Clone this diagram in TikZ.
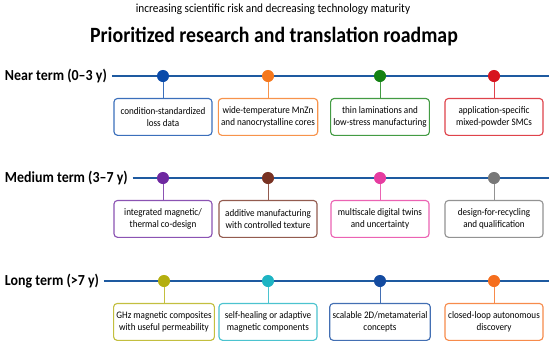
\documentclass[tikz,border=0pt]{standalone}
\usepackage{fontspec}
\setmainfont{Carlito}[FakeStretch=0.91]
\usetikzlibrary{positioning}

\definecolor{roadblue}{RGB}{30,90,160}
\definecolor{nearA}{RGB}{10,75,170}
\definecolor{nearB}{RGB}{245,120,30}
\definecolor{nearC}{RGB}{20,130,20}
\definecolor{nearD}{RGB}{215,20,30}
\definecolor{midA}{RGB}{110,40,160}
\definecolor{midB}{RGB}{120,50,35}
\definecolor{midC}{RGB}{230,60,160}
\definecolor{midD}{RGB}{120,120,120}
\definecolor{longA}{RGB}{180,175,15}
\definecolor{longB}{RGB}{30,180,195}
\definecolor{longC}{RGB}{20,75,160}
\definecolor{longD}{RGB}{245,110,30}

\tikzset{
  axis/.style={draw=roadblue,line width=1.5pt},
  termlabel/.style={anchor=west,font=\fontsize{10.9}{12}\selectfont\bfseries},
  milestone/.style={circle,fill=#1,inner sep=0pt,minimum size=8.6pt},
  itembox/.style={draw=#1!80,fill=white,rounded corners=2.5pt,line width=0.8pt,
    minimum width=2.45cm,minimum height=0.92cm,align=center,inner sep=2pt,
    font=\fontsize{7.1}{9}\selectfont},
  stem/.style={draw=#1!80,line width=0.7pt}
}

\begin{document}
\begin{tikzpicture}[x=0.025cm,y=-0.025cm]
  \useasboundingbox (0,0) rectangle (550,345);

  % headings
  \node[font=\fontsize{8.8}{10}\selectfont] (risk) at (273,9)
    {increasing scientific risk and decreasing technology maturity};
  \node[font=\fontsize{15.5}{18}\selectfont\bfseries] (title) at (274,37)
    {Prioritized research and translation roadmap};

  % near term
  \node[termlabel] (near) at (0,76) {Near term (0--3 y)};
  \coordinate (nearend) at (549,76);
  \draw[axis] (near.east) -- (nearend);
  \node[milestone=nearA] (n1) at (163,76) {};
  \node[milestone=nearB] (n2) at (268,76) {};
  \node[milestone=nearC] (n3) at (380,76) {};
  \node[milestone=nearD] (n4) at (494,76) {};
  \node[itembox=nearA,below=0.39cm of n1] (bn1) {condition-standardized\\loss data};
  \node[itembox=nearB,below=0.39cm of n2] (bn2) {wide-temperature MnZn\\and nanocrystalline cores};
  \node[itembox=nearC,below=0.39cm of n3] (bn3) {thin laminations and\\low-stress manufacturing};
  \node[itembox=nearD,below=0.39cm of n4] (bn4) {application-specific\\mixed-powder SMCs};
  \draw[stem=nearA] (n1) -- (bn1);
  \draw[stem=nearB] (n2) -- (bn2);
  \draw[stem=nearC] (n3) -- (bn3);
  \draw[stem=nearD] (n4) -- (bn4);

  % medium term
  \node[termlabel] (medium) at (0,178) {Medium term (3--7 y)};
  \coordinate (mediumend) at (549,178);
  \draw[axis] (medium.east) -- (mediumend);
  \node[milestone=midA] (m1) at (163,178) {};
  \node[milestone=midB] (m2) at (268,178) {};
  \node[milestone=midC] (m3) at (380,178) {};
  \node[milestone=midD] (m4) at (494,178) {};
  \node[itembox=midA,below=0.39cm of m1] (bm1) {integrated magnetic/\\thermal co-design};
  \node[itembox=midB,below=0.39cm of m2] (bm2) {additive manufacturing\\with controlled texture};
  \node[itembox=midC,below=0.39cm of m3] (bm3) {multiscale digital twins\\and uncertainty};
  \node[itembox=midD,below=0.39cm of m4] (bm4) {design-for-recycling\\and qualification};
  \draw[stem=midA] (m1) -- (bm1);
  \draw[stem=midB] (m2) -- (bm2);
  \draw[stem=midC] (m3) -- (bm3);
  \draw[stem=midD] (m4) -- (bm4);

  % long term
  \node[termlabel] (long) at (0,281) {Long term (>7 y)};
  \coordinate (longend) at (549,281);
  \draw[axis] (long.east) -- (longend);
  \node[milestone=longA] (l1) at (164,281) {};
  \node[milestone=longB] (l2) at (268,281) {};
  \node[milestone=longC] (l3) at (380,281) {};
  \node[milestone=longD] (l4) at (494,281) {};
  \node[itembox=longA,below=0.39cm of l1] (bl1) {GHz magnetic composites\\with useful permeability};
  \node[itembox=longB,below=0.39cm of l2] (bl2) {self-healing or adaptive\\magnetic components};
  \node[itembox=longC,below=0.39cm of l3] (bl3) {scalable 2D/metamaterial\\concepts};
  \node[itembox=longD,below=0.39cm of l4] (bl4) {closed-loop autonomous\\discovery};
  \draw[stem=longA] (l1) -- (bl1);
  \draw[stem=longB] (l2) -- (bl2);
  \draw[stem=longC] (l3) -- (bl3);
  \draw[stem=longD] (l4) -- (bl4);
\end{tikzpicture}
\end{document}
